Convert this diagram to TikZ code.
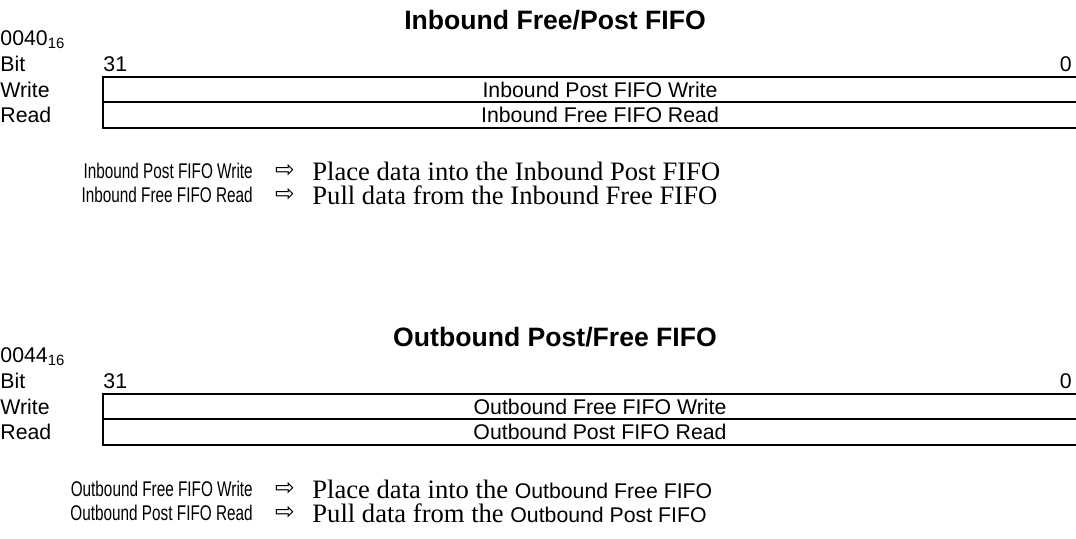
\documentclass[tikz,border=0pt]{standalone}
\usepackage{fontspec}
\usepackage{tikz}
\usetikzlibrary{positioning}
\setmainfont{Liberation Sans}
\newfontfamily\timesfont{Liberation Serif}
\newfontfamily\arrowfont{DejaVu Sans}

\begin{document}
\begin{tikzpicture}[x=0.47pt,y=-0.47pt]
% Register styles
\tikzset{
    lbl/.style={inner sep=0pt,font=\fontsize{10}{12}\selectfont},
    key/.style={inner sep=0pt,anchor=east,xscale=0.72,transform shape,
        font=\fontsize{10}{12}\selectfont},
    ttl/.style={inner sep=0pt,font=\fontsize{12.5}{15}\selectfont\bfseries},
    srf/.style={inner sep=0pt,anchor=west,font=\fontsize{12.5}{15}\selectfont\timesfont},
    arw/.style={inner sep=0pt,font=\fontsize{11}{13}\selectfont\arrowfont},
    rowbox/.style={draw,line width=0.95pt,minimum width=467.2pt,minimum height=12pt,
        inner sep=0pt,outer sep=0pt,font=\fontsize{10}{12}\selectfont}
}
\useasboundingbox (0,0) rectangle (1076,538);
% Inbound register
\node[ttl] (tA) at (555,20){Inbound Free/Post FIFO};
\node[lbl,anchor=west] (adrA) at (0,40){0040\textsubscript{16}};
\node[lbl,anchor=west] (bitA) at (0,64){Bit};
\node[lbl,anchor=west] (hiA) at (103,64){31};
\node[lbl,anchor=east] (loA) at (1072,64){0};
\node[lbl,anchor=west] (wrA) at (0,89.5){Write};
\node[lbl,anchor=west] (rdA) at (0,115){Read};
\node[rowbox] (wA) at (600,89.5){Inbound Post FIFO Write};
\node[rowbox,below=0pt of wA] (rA){Inbound Free FIFO Read};
% Inbound legend
\node[key] (k1A) at (253,171){Inbound Post FIFO Write};
\node[arw] (a1A) at (285,171){⇨};
\node[srf] (d1A) at (312,171){Place data into the Inbound Post FIFO};
\node[key] (k2A) at (253,195){Inbound Free FIFO Read};
\node[arw] (a2A) at (285,195){⇨};
\node[srf] (d2A) at (312,195){Pull data from the Inbound Free FIFO};

% Outbound register
\node[ttl] (tB) at (555,337){Outbound Post/Free FIFO};
\node[lbl,anchor=west] (adrB) at (0,357){0044\textsubscript{16}};
\node[lbl,anchor=west] (bitB) at (0,381){Bit};
\node[lbl,anchor=west] (hiB) at (103,381){31};
\node[lbl,anchor=east] (loB) at (1072,381){0};
\node[lbl,anchor=west] (wrB) at (0,406.5){Write};
\node[lbl,anchor=west] (rdB) at (0,432){Read};
\node[rowbox] (wB) at (600,406.5){Outbound Free FIFO Write};
\node[rowbox,below=0pt of wB] (rB){Outbound Post FIFO Read};
% Outbound legend
\node[key] (k1B) at (253,489){Outbound Free FIFO Write};
\node[arw] (a1B) at (285,489){⇨};
\node[srf] (d1B) at (312,489){Place data into the {\fontsize{10}{12}\selectfont\rmfamily Outbound Free FIFO}};
\node[key] (k2B) at (253,513){Outbound Post FIFO Read};
\node[arw] (a2B) at (285,513){⇨};
\node[srf] (d2B) at (312,513){Pull data from the {\fontsize{10}{12}\selectfont\rmfamily Outbound Post FIFO}};

\end{tikzpicture}
\end{document}
